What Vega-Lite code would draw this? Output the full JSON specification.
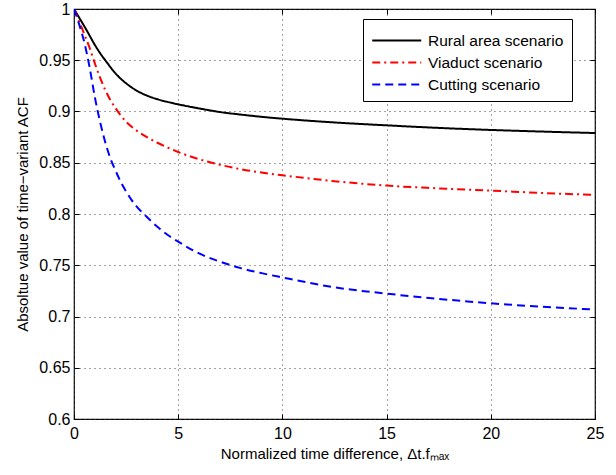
{
  "$schema": "https://vega.github.io/schema/vega-lite/v6.json",
  "autosize": "none",
  "width": 521,
  "height": 410,
  "padding": {"left": 74, "top": 9, "right": 21, "bottom": 56},
  "background": "white",
  "config": {
    "font": "Liberation Sans",
    "view": {"stroke": "black", "strokeWidth": 1.2},
    "axis": {
      "labelFont": "Liberation Sans",
      "titleFont": "Liberation Sans",
      "labelFontSize": 16,
      "titleFontSize": 15,
      "titleFontWeight": "normal",
      "labelColor": "black",
      "titleColor": "black",
      "domain": false,
      "tickColor": "black",
      "tickWidth": 1,
      "tickSize": -5,
      "grid": true,
      "gridColor": "#444",
      "gridDash": [1, 4],
      "gridWidth": 1
    }
  },
  "data": {
    "values": [
      {"x": 0, "v": 1.0, "s": "Rural area scenario"},
      {"x": 0.25, "v": 0.9915, "s": "Rural area scenario"},
      {"x": 0.5, "v": 0.983, "s": "Rural area scenario"},
      {"x": 0.75, "v": 0.974, "s": "Rural area scenario"},
      {"x": 1, "v": 0.965, "s": "Rural area scenario"},
      {"x": 1.25, "v": 0.957, "s": "Rural area scenario"},
      {"x": 1.5, "v": 0.95, "s": "Rural area scenario"},
      {"x": 2, "v": 0.937, "s": "Rural area scenario"},
      {"x": 2.5, "v": 0.9275, "s": "Rural area scenario"},
      {"x": 3, "v": 0.9205, "s": "Rural area scenario"},
      {"x": 3.5, "v": 0.9155, "s": "Rural area scenario"},
      {"x": 4, "v": 0.912, "s": "Rural area scenario"},
      {"x": 4.5, "v": 0.9093, "s": "Rural area scenario"},
      {"x": 5, "v": 0.907, "s": "Rural area scenario"},
      {"x": 6, "v": 0.903, "s": "Rural area scenario"},
      {"x": 7, "v": 0.8995, "s": "Rural area scenario"},
      {"x": 8, "v": 0.897, "s": "Rural area scenario"},
      {"x": 9, "v": 0.8948, "s": "Rural area scenario"},
      {"x": 10, "v": 0.893, "s": "Rural area scenario"},
      {"x": 12.5, "v": 0.8893, "s": "Rural area scenario"},
      {"x": 15, "v": 0.8865, "s": "Rural area scenario"},
      {"x": 17.5, "v": 0.884, "s": "Rural area scenario"},
      {"x": 20, "v": 0.882, "s": "Rural area scenario"},
      {"x": 22.5, "v": 0.8804, "s": "Rural area scenario"},
      {"x": 25, "v": 0.879, "s": "Rural area scenario"},
      {"x": 0, "v": 1.0, "s": "Viaduct scenario"},
      {"x": 0.25, "v": 0.988, "s": "Viaduct scenario"},
      {"x": 0.5, "v": 0.975, "s": "Viaduct scenario"},
      {"x": 0.75, "v": 0.962, "s": "Viaduct scenario"},
      {"x": 1, "v": 0.947, "s": "Viaduct scenario"},
      {"x": 1.25, "v": 0.933, "s": "Viaduct scenario"},
      {"x": 1.5, "v": 0.921, "s": "Viaduct scenario"},
      {"x": 1.75, "v": 0.911, "s": "Viaduct scenario"},
      {"x": 2, "v": 0.903, "s": "Viaduct scenario"},
      {"x": 2.5, "v": 0.890, "s": "Viaduct scenario"},
      {"x": 3, "v": 0.8815, "s": "Viaduct scenario"},
      {"x": 3.5, "v": 0.875, "s": "Viaduct scenario"},
      {"x": 4, "v": 0.8695, "s": "Viaduct scenario"},
      {"x": 5, "v": 0.8605, "s": "Viaduct scenario"},
      {"x": 6, "v": 0.8535, "s": "Viaduct scenario"},
      {"x": 7, "v": 0.848, "s": "Viaduct scenario"},
      {"x": 8, "v": 0.8437, "s": "Viaduct scenario"},
      {"x": 9, "v": 0.8404, "s": "Viaduct scenario"},
      {"x": 10, "v": 0.8378, "s": "Viaduct scenario"},
      {"x": 12.5, "v": 0.832, "s": "Viaduct scenario"},
      {"x": 15, "v": 0.8277, "s": "Viaduct scenario"},
      {"x": 17.5, "v": 0.825, "s": "Viaduct scenario"},
      {"x": 20, "v": 0.8228, "s": "Viaduct scenario"},
      {"x": 22.5, "v": 0.8205, "s": "Viaduct scenario"},
      {"x": 25, "v": 0.8186, "s": "Viaduct scenario"},
      {"x": 0, "v": 1.0, "s": "Cutting scenario"},
      {"x": 0.25, "v": 0.985, "s": "Cutting scenario"},
      {"x": 0.5, "v": 0.967, "s": "Cutting scenario"},
      {"x": 0.75, "v": 0.943, "s": "Cutting scenario"},
      {"x": 1, "v": 0.914, "s": "Cutting scenario"},
      {"x": 1.25, "v": 0.89, "s": "Cutting scenario"},
      {"x": 1.5, "v": 0.870, "s": "Cutting scenario"},
      {"x": 1.75, "v": 0.854, "s": "Cutting scenario"},
      {"x": 2, "v": 0.842, "s": "Cutting scenario"},
      {"x": 2.25, "v": 0.831, "s": "Cutting scenario"},
      {"x": 2.5, "v": 0.822, "s": "Cutting scenario"},
      {"x": 2.75, "v": 0.814, "s": "Cutting scenario"},
      {"x": 3, "v": 0.8075, "s": "Cutting scenario"},
      {"x": 3.5, "v": 0.797, "s": "Cutting scenario"},
      {"x": 4, "v": 0.7875, "s": "Cutting scenario"},
      {"x": 4.5, "v": 0.7795, "s": "Cutting scenario"},
      {"x": 5, "v": 0.773, "s": "Cutting scenario"},
      {"x": 6, "v": 0.7615, "s": "Cutting scenario"},
      {"x": 7, "v": 0.7535, "s": "Cutting scenario"},
      {"x": 8, "v": 0.7472, "s": "Cutting scenario"},
      {"x": 9, "v": 0.7423, "s": "Cutting scenario"},
      {"x": 10, "v": 0.7381, "s": "Cutting scenario"},
      {"x": 12.5, "v": 0.7285, "s": "Cutting scenario"},
      {"x": 15, "v": 0.7223, "s": "Cutting scenario"},
      {"x": 17.5, "v": 0.7172, "s": "Cutting scenario"},
      {"x": 20, "v": 0.7129, "s": "Cutting scenario"},
      {"x": 22.5, "v": 0.7095, "s": "Cutting scenario"},
      {"x": 25, "v": 0.7068, "s": "Cutting scenario"}
    ]
  },
  "layer": [
    {
      "mark": {"type": "line", "strokeWidth": 2, "interpolate": "monotone", "clip": true},
      "encoding": {
        "x": {
          "field": "x",
          "type": "quantitative",
          "scale": {"domain": [0, 25], "nice": false, "zero": false},
          "axis": {
            "values": [0, 5, 10, 15, 20, 25],
            "title": "Normalized time difference, Δt.fₘₐₓ",
            "labelPadding": 11,
            "titlePadding": 5,
            "labelFlush": false
          }
        },
        "y": {
          "field": "v",
          "type": "quantitative",
          "scale": {"domain": [0.6, 1], "nice": false, "zero": false},
          "axis": {
            "values": [0.6, 0.65, 0.7, 0.75, 0.8, 0.85, 0.9, 0.95, 1],
            "format": "~g",
            "title": "Absoltue value of time−variant ACF",
            "labelPadding": 9,
            "titlePadding": 8,
            "labelFlush": false
          }
        },
        "color": {
          "field": "s",
          "type": "nominal",
          "sort": ["Rural area scenario", "Viaduct scenario", "Cutting scenario"],
          "scale": {
            "domain": ["Rural area scenario", "Viaduct scenario", "Cutting scenario"],
            "range": ["#000000", "#ff0000", "#0000ff"]
          },
          "legend": {
            "title": null,
            "orient": "none",
            "legendX": 289,
            "legendY": 10,
            "symbolType": "M-1,0H3",
            "symbolSize": 600,
            "symbolStrokeWidth": 2,
            "labelFont": "Liberation Sans",
            "labelFontSize": 15.5,
            "labelColor": "black",
            "strokeColor": "black",
            "fillColor": "white",
            "padding": 8,
            "rowPadding": 0,
            "labelOffset": 30
          }
        },
        "strokeDash": {
          "field": "s",
          "type": "nominal",
          "sort": ["Rural area scenario", "Viaduct scenario", "Cutting scenario"],
          "scale": {
            "domain": ["Rural area scenario", "Viaduct scenario", "Cutting scenario"],
            "range": [[1, 0], [8, 4, 2, 4], [8, 5]]
          },
          "legend": null
        }
      }
    },
    {
      "mark": {"type": "line", "opacity": 0},
      "encoding": {
        "x": {
          "field": "x",
          "type": "quantitative",
          "axis": {"orient": "top", "values": [0, 5, 10, 15, 20, 25], "labels": false, "title": null, "grid": false}
        },
        "y": {
          "field": "v",
          "type": "quantitative",
          "axis": {"orient": "right", "values": [0.6, 0.65, 0.7, 0.75, 0.8, 0.85, 0.9, 0.95, 1], "labels": false, "title": null, "grid": false}
        },
        "detail": {"field": "s"}
      }
    }
  ],
  "resolve": {"axis": {"x": "independent", "y": "independent"}}
}
